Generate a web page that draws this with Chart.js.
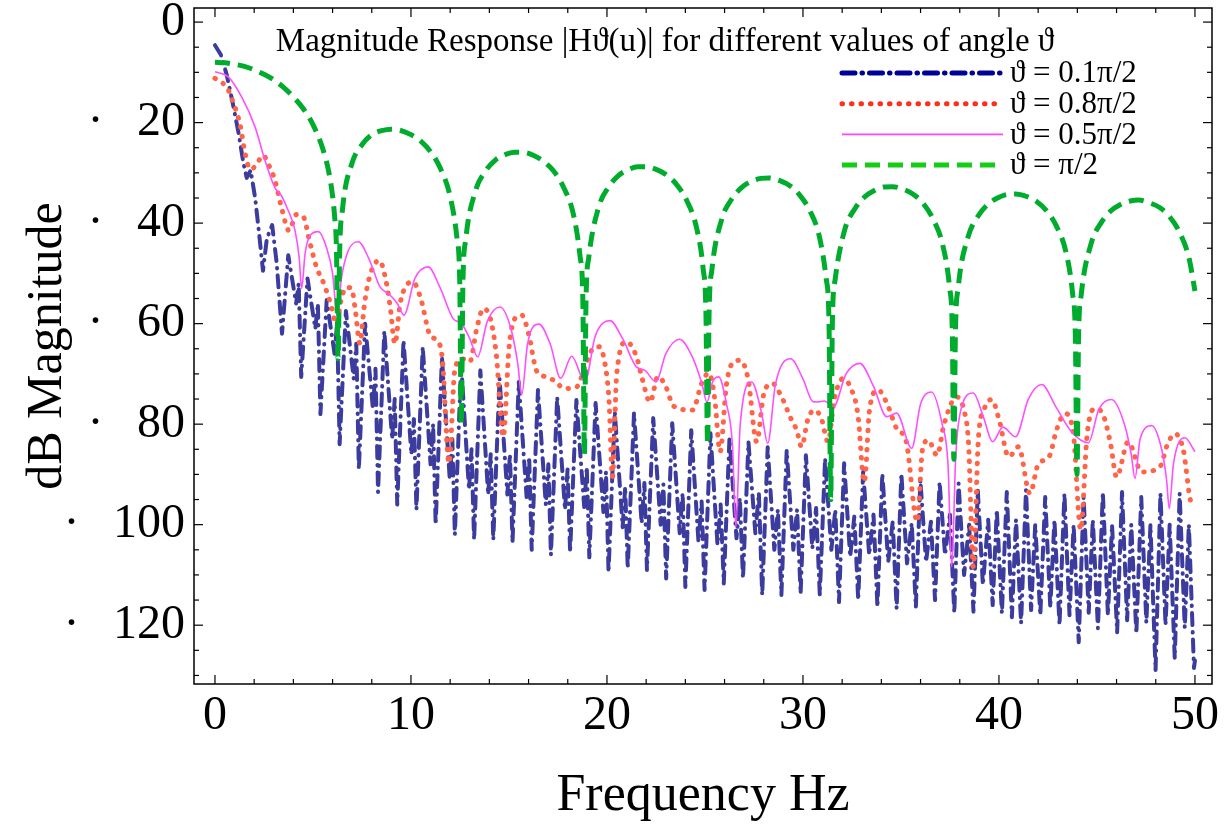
<!DOCTYPE html>
<html><head><meta charset="utf-8">
<script src="https://cdn.jsdelivr.net/npm/chart.js@4.4.1/dist/chart.umd.min.js"></script>
<style>html,body{margin:0;padding:0;background:#fff;}#wrap{width:1227px;height:828px;}</style>
</head><body><div id="wrap"><canvas id="c" width="1227" height="828"></canvas></div>
<script>
const SERIF = '"Liberation Serif", "Times New Roman", serif';

const titleText = 'Magnitude Response |H\u03D1(u)| for different values of angle \u03D1';
const xTitle = 'Frequency Hz';
const yTitle = 'dB Magnitude';
const seriesLabels = ['\u03D1 = 0.1\u03C0/2', '\u03D1 = 0.8\u03C0/2', '\u03D1 = 0.5\u03C0/2', '\u03D1 = \u03C0/2'];

const xTicksMajor = [0, 10, 20, 30, 40, 50];
const xTicksMinor = [0,2,4,6,8,10,12,14,16,18,20,22,24,26,28,30,32,34,36,38,40,42,44,46,48,50];
const yTicksMajor = [0, -20, -40, -60, -80, -100, -120];
const yTicksMinor = [0,-5,-10,-15,-20,-25,-30,-35,-40,-45,-50,-55,-60,-65,-70,-75,-80,-85,-90,-95,-100,-105,-110,-115,-120,-125,-130];

// theta = 0.1 pi/2 (blue, dash-dot)
const blueX = [0,0.3,0.6,0.9,1.2,1.45,1.62,1.82,2.05,2.25,2.45,2.65,2.92,3.15,
3.42,3.74,4.14,4.27, 4.40,4.72,5.12,5.25, 5.38,5.70,6.10,6.23, 6.36,6.68,7.08,7.21,
7.34,7.66,8.06,8.19, 8.32,8.64,9.04,9.17, 9.30,9.62,10.02,10.15, 10.28,10.60,11.00,11.13,
11.26,11.58,11.98,12.11, 12.24,12.56,12.96,13.09, 13.22,13.54,13.94,14.07, 14.20,14.52,14.92,15.05,
15.18,15.50,15.90,16.03, 16.16,16.48,16.88,17.01, 17.14,17.46,17.86,17.99, 18.12,18.44,18.84,18.97,
19.10,19.42,19.82,19.95, 20.08,20.40,20.80,20.93, 21.06,21.38,21.77,21.91, 22.04,22.36,22.74,22.88,
23.02,23.33,23.71,23.86, 24.00,24.30,24.67,24.83, 24.98,25.28,25.64,25.80, 25.96,26.25,26.61,26.78,
26.94,27.22,27.57,27.75, 27.92,28.20,28.54,28.72, 28.90,29.17,29.51,29.70, 29.88,30.15,30.48,30.67,
30.86,31.13,31.45,31.65, 31.84,32.10,32.41,32.62, 32.82,33.07,33.38,33.60, 33.80,34.05,34.35,34.58,
34.78,35.02,35.31,35.55, 35.76,35.99,36.28,36.53, 36.74,36.97,37.25,37.50, 37.72,37.94,38.22,38.48,
38.70,38.92,39.18,39.45, 39.68,39.89,40.15,40.40, 40.66,40.87,41.13,41.38, 41.64,41.85,42.11,42.36,
42.62,42.83,43.09,43.34, 43.60,43.81,44.07,44.32, 44.58,44.79,45.05,45.30, 45.56,45.77,46.03,46.28,
46.54,46.75,47.01,47.26, 47.52,47.73,47.99,48.24, 48.50,48.71,48.97,49.22, 49.48,49.69,49.95,50];
const blueY = [-4.6,-6.5,-10.5,-16,-22,-28,-31,-29.5,-35,-42,-49.5,-43,-40.4,-48,
-62,-46.4,-56,-52, -70.6,-51,-61,-56, -78,-55.3,-66,-60, -84,-57.5,-71,-64,
-89,-60,-77,-69, -93.5,-61.5,-83,-75, -96,-63.3,-86,-79, -97,-64.6,-88,-80,
-100,-66.6,-91,-83, -102,-68,-93,-85, -103,-69.3,-94,-86, -103,-71,-94,-86,
-103.5,-71.6,-94.5,-86.5, -105,-73.2,-96,-88, -106,-74.6,-97,-89, -105.5,-75.2,-96.5,-88.5,
-106.5,-75.8,-97.5,-89.5, -109.5,-77.5,-100.5,-92.5, -108.7,-77.8,-99.7,-91.7, -109,-78.8,-100,-92,
-110.7,-79.8,-101.7,-93.7, -112.4,-81.2,-103.4,-95.4, -113,-81.8,-104,-96, -111.7,-82.8,-102.7,-94.7,
-110.7,-83.6,-101.7,-93.7, -114,-84.6,-105,-97, -114,-85.2,-105,-97, -113.7,-86.2,-104.7,-96.7,
-114,-86.8,-105,-97, -115.4,-87.8,-106.4,-98.4, -115,-89.5,-106,-98, -116.4,-89.8,-107.4,-99.4,
-116.7,-89.8,-107.7,-99.7, -116.4,-91.1,-107.4,-99.4, -115,-91.5,-106,-98, -117.6,-91.8,-110,-100,
-117.3,-93.1,-112,-99, -116,-97,-117.6,-93.5, -118.4,-99,-119.6,-93.1, -117,-100,-118,-94.5,
-116.5,-99,-120,-93.8, -118,-100,-123.4,-94.5, -117.5,-99,-120.6,-93.5, -118,-100,-121.4,-93.5,
-119,-100,-121.7,-94.5, -119.5,-100,-129,-93.8, -120,-100,-126.6,-93.8, -120.5,-100,-128.5,-127];

// theta = 0.8 pi/2 (red, dotted)
const redX = [0,0.35,0.68,0.88,1.05,1.28,1.53,1.8,2.1,2.45,2.75,3.06,3.4,3.78,4.15,4.5,4.85,5.2,5.5,5.9,
6.2,6.45,6.7,6.97,7.15,7.4,7.6,7.82,8.38,8.7,8.95,9.18,9.45,9.78,10.1,10.5,10.97,11.3,11.6,11.94,
12.24,12.6,13.0,13.37,13.7,14.05,14.35,14.71,15.0,15.3,15.65,16.0,16.4,16.8,17.43,17.77,18.45,18.88,19.22,19.6,
19.9,20.1,20.28,20.5,21.0,21.5,21.8,22.2,22.6,23.0,23.4,24.37,24.83,25.2,25.5,25.77,26.1,26.5,26.8,27.2,
27.64,28.0,28.45,28.9,29.4,29.68,29.93,30.25,30.6,30.95,31.28,31.6,32.06,32.4,32.8,33.13,33.4,33.84,34.3,34.8,
35.26,35.83,36.1,36.4,36.84,37.2,37.84,38.2,38.45,38.69,38.95,39.25,39.63,40.0,40.5,41.0,41.58,42.0,42.57,42.95,
43.37,43.8,44.17,44.5,44.9,45.3,45.7,46.0,46.6,47.28,48.21,48.6,48.98,49.4,49.83,50];
const redY = [-11.2,-12,-13.5,-15.5,-17.3,-20.4,-26,-29.3,-28.5,-26.5,-28.5,-31.5,-37,-41.5,-38.3,-38.7,-44,-49,-51.5,-56,
-60,-55,-52.8,-53,-57,-64,-57,-51.7,-47.4,-51,-57,-64,-56,-52.3,-51.7,-55,-62.3,-63.3,-67,-87.8,
-69.2,-67,-67.6,-60.7,-57,-59,-66,-82.5,-65,-59,-58.3,-62,-69.3,-70.5,-71.6,-72.9,-72.6,-68.6,-65.3,-64.6,
-68,-75,-90.5,-70,-63.6,-66.5,-71,-75.6,-70.5,-72.5,-76.4,-77.2,-71.9,-69.8,-75,-85.5,-72,-67.5,-67.3,-71,
-83.5,-74,-71.9,-74.5,-79,-81.2,-84.5,-79,-77.2,-79,-83.5,-75,-70.9,-72.5,-78,-91.5,-77,-73.2,-76,-81,
-83.3,-99.4,-85,-83.2,-86.2,-80,-74.6,-77,-84,-108.4,-83,-77,-75.1,-79,-86.5,-84.5,-93.8,-88,-86.4,-81,
-77.9,-82,-101,-82,-76.9,-78,-84,-90.5,-83.5,-89.5,-88.5,-84,-81.9,-85,-95.8,-96];

// theta = 0.5 pi/2 (magenta, solid)
const magX = [0,0.68,1.36,2.04,2.55,3.06,3.4,3.66,4.08,4.3,4.42,4.6,4.85,5.27,5.7,6.0,6.24,6.45,6.8,7.31,
7.9,8.42,8.93,9.3,9.64,10.2,10.88,11.5,12.15,12.58,13.0,13.4,13.9,14.54,15.1,15.45,15.65,15.95,16.53,17.1,
17.64,18.2,18.88,19.4,20.15,20.8,21.5,21.94,22.5,23.0,23.7,24.4,24.85,25.1,25.4,25.7,26.1,26.4,26.58,26.8,
27.38,27.9,28.2,28.6,29.37,30.0,30.5,30.7,31.1,31.55,32.2,32.9,33.6,34.27,34.78,35.55,36.0,36.56,37.1,37.4,
37.59,37.8,38.1,38.69,39.2,39.68,40.2,40.85,41.5,42.18,42.9,43.7,44.56,45.1,45.75,46.4,46.75,46.94,47.2,47.79,
48.3,48.55,48.69,48.9,49.49,50];
const magY = [-9.9,-10.9,-14.9,-20.8,-27.5,-33,-34.6,-36.8,-41.4,-47,-53,-46,-42.5,-41.7,-45,-50,-58.6,-51,-45.5,-43.7,
-47.5,-52.7,-54.3,-56,-58.3,-51,-48.7,-53,-59,-60,-63,-66.6,-59.5,-56.7,-61,-68,-74.2,-64,-60.1,-64,
-70.9,-66.5,-71.6,-62.5,-59.4,-63,-68.6,-69.3,-71.6,-66,-63.1,-67,-72,-75.6,-71.5,-70.6,-76,-84,-100.4,-80,
-71.6,-78,-83.8,-72,-67,-71,-75.5,-75.6,-75.4,-76.6,-70,-67.9,-72.5,-78.5,-77.8,-84.8,-76,-73.6,-80,-88,
-108.4,-86,-76.5,-73.8,-78.5,-83.5,-80.6,-82.5,-75,-72.1,-76.5,-81.5,-83.7,-77,-75.1,-80,-86,-90.8,-83,-80.3,
-85,-91,-96.8,-88,-82.7,-85.5];

// theta = pi/2 (green, dashed)
const greenX = [0,0.5,1,1.5,2,2.5,3,3.5,4,4.5,5,5.5,5.8,6.0,6.1,6.2,6.283,
6.36,6.5,7.0,7.5,8.0,8.5,9.0,9.42,10.0,10.5,11.0,11.5,12.0,12.35,12.49,12.566,
12.65,12.79,13.29,13.79,14.29,14.79,15.29,15.71,16.29,16.79,17.29,17.79,18.29,18.63,18.77,18.85,
18.93,19.07,19.57,20.07,20.57,21.07,21.57,21.99,22.57,23.07,23.57,24.07,24.57,24.91,25.05,25.133,
25.21,25.35,25.85,26.35,26.85,27.35,27.85,28.27,28.85,29.35,29.85,30.35,30.85,31.19,31.33,31.416,
31.50,31.64,32.14,32.64,33.14,33.64,34.14,34.56,35.14,35.64,36.14,36.64,37.14,37.48,37.62,37.699,
37.78,37.92,38.42,38.92,39.42,39.92,40.42,40.84,41.42,41.92,42.42,42.92,43.42,43.76,43.90,43.982,
44.06,44.20,44.70,45.20,45.70,46.20,46.70,47.12,47.70,48.20,48.70,49.20,49.70,50];
const greenY = [-8,-8.1,-8.4,-8.8,-9.5,-10.4,-11.5,-13.0,-14.9,-17.2,-20.4,-25.2,-29.7,-34.6,-38.5,-45.4,-67,
-46,-37.5,-28.0,-24.4,-22.4,-21.6,-21.3,-21.5,-22.4,-23.7,-25.8,-29.1,-34.7,-43.1,-51.9,-80,
-52.0,-43.4,-33.6,-29.7,-27.5,-26.4,-25.9,-25.9,-26.6,-27.8,-29.7,-32.9,-38.3,-46.7,-55.4,-86,
-55.5,-46.9,-36.9,-32.9,-30.6,-29.4,-28.8,-28.8,-29.4,-30.5,-32.4,-35.5,-40.9,-49.2,-57.9,-84,
-58.0,-49.4,-39.3,-35.3,-33.0,-31.7,-31.1,-31.0,-31.6,-32.6,-34.5,-37.5,-42.9,-51.2,-59.9,-95,
-59.9,-51.3,-41.2,-37.2,-34.8,-33.5,-32.8,-32.75,-33.3,-34.3,-36.1,-39.2,-44.5,-52.8,-61.5,-87,
-61.5,-52.9,-42.8,-38.7,-36.3,-35.0,-34.3,-34.2,-34.7,-35.7,-37.5,-40.5,-45.8,-54.1,-62.8,-90,
-62.9,-54.2,-44.1,-40.0,-37.6,-36.3,-35.6,-35.4,-36.0,-36.9,-38.7,-41.7,-47.0,-53.5];

function pts(xs, ys) { return xs.map((x, i) => ({ x: x, y: ys[i] })); }

const legendStyle = [
  { color: 'rgb(0,0,150)', width: 5, dash: [13, 7, 0.5, 7], cap: 'round' },
  { color: 'rgb(255,45,25)', width: 5, dash: [0.5, 9], cap: 'round' },
  { color: 'rgb(255,70,255)', width: 1.6, dash: [], cap: 'butt' },
  { color: 'rgb(20,205,20)', width: 5, dash: [15, 8], cap: 'butt' }
];

const framePlugin = {
  id: 'frame',
  afterDraw(chart) {
    const ctx = chart.ctx, a = chart.chartArea, xs = chart.scales.x, ys = chart.scales.y;
    ctx.save();
    const line = (x1, y1, x2, y2) => { ctx.beginPath(); ctx.moveTo(x1, y1); ctx.lineTo(x2, y2); ctx.stroke(); };
    ctx.strokeStyle = '#000'; ctx.lineWidth = 1.5; ctx.setLineDash([]);
    ctx.strokeRect(a.left, a.top, a.right - a.left, a.bottom - a.top);
    ctx.lineWidth = 1.2;
    xTicksMinor.forEach(v => {
      const p = xs.getPixelForValue(v);
      const L = xTicksMajor.includes(v) ? 9 : 5;
      line(p, a.bottom, p, a.bottom - L);
      line(p, a.top, p, a.top + L);
    });
    yTicksMinor.forEach(v => {
      const p = ys.getPixelForValue(v);
      const L = yTicksMajor.includes(v) ? 9 : 5;
      line(a.left, p, a.left + L, p);
      line(a.right, p, a.right - L, p);
    });
    // title inside the plot
    ctx.fillStyle = '#000';
    ctx.font = '33px ' + SERIF;
    ctx.textAlign = 'center';
    ctx.textBaseline = 'alphabetic';
    ctx.fillText(titleText, a.left + 471, a.top + 43);
    // legend inside the plot
    ctx.font = '31px ' + SERIF;
    ctx.textAlign = 'left';
    ctx.textBaseline = 'middle';
    legendStyle.forEach((s, i) => {
      const yy = a.top + 65 + i * 30.7;
      ctx.strokeStyle = s.color; ctx.lineWidth = s.width; ctx.lineCap = s.cap; ctx.setLineDash(s.dash);
      line(a.left + 648, yy, a.left + 809, yy);
      ctx.setLineDash([]);
      ctx.fillStyle = '#000';
      ctx.fillText(seriesLabels[i], a.left + 816, yy + 1);
    });
    ctx.restore();
  }
};

new Chart(document.getElementById('c').getContext('2d'), {
  type: 'line',
  data: {
    datasets: [
      { label: seriesLabels[0], data: pts(blueX, blueY), borderColor: 'rgb(60,60,158)', borderWidth: 4,
        borderDash: [12, 7, 0.5, 7], borderCapStyle: 'round', borderJoinStyle: 'round', tension: 0, pointRadius: 0, order: 4 },
      { label: seriesLabels[1], data: pts(redX, redY), borderColor: 'rgb(255,100,72)', borderWidth: 5,
        borderDash: [0.5, 9], borderCapStyle: 'round', cubicInterpolationMode: 'monotone', pointRadius: 0, order: 3 },
      { label: seriesLabels[2], data: pts(magX, magY), borderColor: 'rgb(255,80,255)', borderWidth: 1.6,
        cubicInterpolationMode: 'monotone', pointRadius: 0, order: 2 },
      { label: seriesLabels[3], data: pts(greenX, greenY), borderColor: 'rgb(0,172,45)', borderWidth: 5,
        borderDash: [15, 8], borderCapStyle: 'butt', cubicInterpolationMode: 'monotone', pointRadius: 0, order: 1 }
    ]
  },
  options: {
    responsive: false, animation: false, events: [],
    layout: { padding: { left: 0, top: 8, right: 15, bottom: 0 } },
    plugins: { legend: { display: false }, title: { display: false }, tooltip: { enabled: false } },
    scales: {
      x: {
        type: 'linear', min: -1.07, max: 50.87,
        afterFit(s) { s.height = 144; s.paddingLeft = 0; s.paddingRight = 0; },
        afterBuildTicks(s) { s.ticks = xTicksMajor.map(v => ({ value: v })); },
        grid: { display: false, drawTicks: false }, border: { display: false },
        ticks: { font: { family: SERIF, size: 48 }, color: '#000', padding: 4, maxRotation: 0, autoSkip: false },
        title: { display: true, text: xTitle, font: { family: SERIF, size: 52 }, color: '#000', padding: 0 }
      },
      y: {
        type: 'linear', min: -131.7, max: 2.8,
        afterFit(s) { s.width = 194; s.paddingTop = 0; s.paddingBottom = 0; },
        afterBuildTicks(s) { s.ticks = yTicksMajor.map(v => ({ value: v })); },
        grid: { display: false, drawTicks: false }, border: { display: false },
        ticks: { font: { family: SERIF, size: 48 }, color: '#000', padding: 9, autoSkip: false,
          callback: v => (v === 0 ? '0' : '\u00B7\u2002\u2009' + Math.abs(v)) },
        title: { display: true, text: yTitle, font: { family: SERIF, size: 50 }, color: '#000', padding: { top: 18, bottom: 0 } }
      }
    }
  },
  plugins: [framePlugin]
});
</script></body></html>
